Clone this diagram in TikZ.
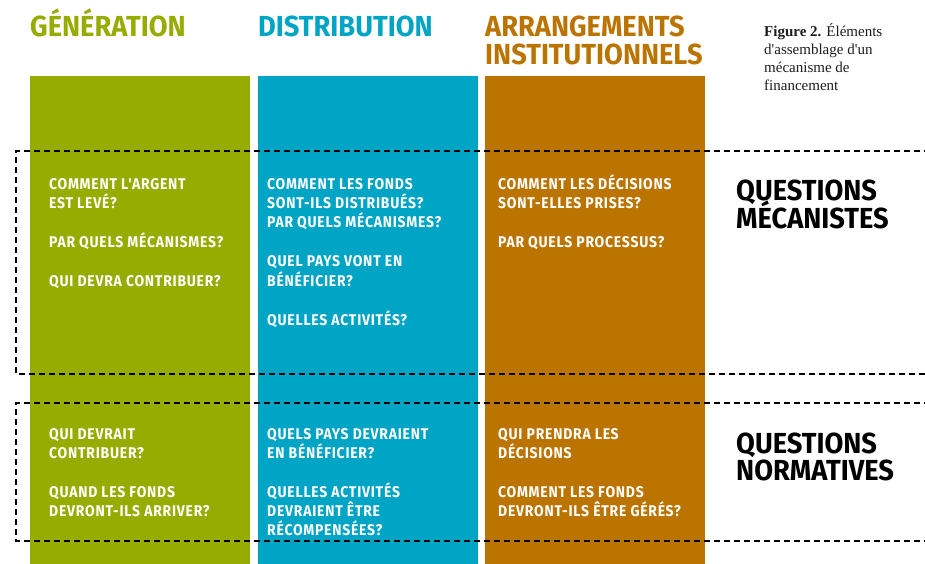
\documentclass[tikz,border=0pt]{standalone}
\usepackage{fontspec}
\setmainfont{Liberation Serif}
\newfontfamily\headfont[FakeStretch=0.94]{Fira Sans}
\newfontfamily\bodyfont[FakeStretch=0.9, LetterSpace=5]{Fira Sans}
\usetikzlibrary{positioning}

\definecolor{genGreen}{RGB}{151,172,0}
\definecolor{distBlue}{RGB}{0,164,196}
\definecolor{instOrange}{RGB}{187,116,0}
\definecolor{captionInk}{RGB}{30,28,28}

\tikzset{
  column/.style={fill=#1, draw=none},
  header/.style={anchor=base west, inner sep=0pt, text=#1,
    font=\headfont\bfseries\fontsize{29}{28}\selectfont},
  qtext/.style={anchor=base west, inner sep=0pt, text=white,
    font=\bodyfont\bfseries\fontsize{15.5}{19}\selectfont},
  qlabel/.style={anchor=base west, inner sep=0pt, text=black,
    font=\headfont\bfseries\fontsize{29}{28}\selectfont},
  groupbox/.style={draw=black, line width=1.8pt, dash pattern=on 6pt off 4pt},
}

\begin{document}
\begin{tikzpicture}[x=1pt,y=-1pt]
  \useasboundingbox (0,0) rectangle (925,564);

  % colour columns
  \fill[column=genGreen]   (30,76)  rectangle (250,564);
  \fill[column=distBlue]   (258,76) rectangle (478,564);
  \fill[column=instOrange] (485,76) rectangle (705,564);

  % column headings
  \node[header=genGreen]   (hgen)  at (30,37)  {GÉNÉRATION};
  \node[header=distBlue]   (hdist) at (258,37) {DISTRIBUTION};
  \node[header=instOrange] (hinsA) at (485,37) {ARRANGEMENTS};
  \node[header=instOrange] (hinsB) at (485,65) {INSTITUTIONNELS};

  % caption (the base anchor sits on the last line)
  \node[anchor=base west, inner sep=0pt, text=captionInk, align=left,
        font=\fontsize{15}{18}\selectfont] (cap) at (764,91)
    {\textbf{Figure 2.} Éléments\\d\textquotesingle assemblage d\textquotesingle un\\mécanisme de\\financement};

  % mechanistic questions
  \node[qtext] (g1) at (49,189.5) {COMMENT L\textquotesingle ARGENT};
  \node[qtext] (g2) at (49,208.5) {EST LEVÉ?};
  \node[qtext] (g3) at (49,247)   {PAR QUELS MÉCANISMES?};
  \node[qtext] (g4) at (49,286)   {QUI DEVRA CONTRIBUER?};

  \node[qtext] (d1) at (267,189.5) {COMMENT LES FONDS};
  \node[qtext] (d2) at (267,208.5) {SONT-ILS DISTRIBUÉS?};
  \node[qtext] (d3) at (267,227.5) {PAR QUELS MÉCANISMES?};
  \node[qtext] (d4) at (267,266.5) {QUEL PAYS VONT EN};
  \node[qtext] (d5) at (267,286)   {BÉNÉFICIER?};
  \node[qtext] (d6) at (267,325)   {QUELLES ACTIVITÉS?};

  \node[qtext] (i1) at (498,189.5) {COMMENT LES DÉCISIONS};
  \node[qtext] (i2) at (498,208.5) {SONT-ELLES PRISES?};
  \node[qtext] (i3) at (498,247)   {PAR QUELS PROCESSUS?};

  % normative questions
  \node[qtext] (gn1) at (49,439.5) {QUI DEVRAIT};
  \node[qtext] (gn2) at (49,458)   {CONTRIBUER?};
  \node[qtext] (gn3) at (49,497.5) {QUAND LES FONDS};
  \node[qtext] (gn4) at (49,516)   {DEVRONT-ILS ARRIVER?};

  \node[qtext] (dn1) at (267,439.5) {QUELS PAYS DEVRAIENT};
  \node[qtext] (dn2) at (267,458)   {EN BÉNÉFICIER?};
  \node[qtext] (dn3) at (267,497.5) {QUELLES ACTIVITÉS};
  \node[qtext] (dn4) at (267,516)   {DEVRAIENT ÊTRE};
  \node[qtext] (dn5) at (267,535)   {RÉCOMPENSÉES?};

  \node[qtext] (in1) at (498,439.5) {QUI PRENDRA LES};
  \node[qtext] (in2) at (498,458)   {DÉCISIONS};
  \node[qtext] (in3) at (498,497.5) {COMMENT LES FONDS};
  \node[qtext] (in4) at (498,516)   {DEVRONT-ILS ÊTRE GÉRÉS?};

  % row labels
  \node[qlabel] (qm1) at (736,200) {QUESTIONS};
  \node[qlabel] (qm2) at (736,228) {MÉCANISTES};
  \node[qlabel] (qn1) at (736,453) {QUESTIONS};
  \node[qlabel] (qn2) at (736,480) {NORMATIVES};

  % dashed groupings, open on the right
  \draw[groupbox] (930,151) -- (16,151) -- (16,374) -- (930,374);
  \draw[groupbox] (930,403) -- (16,403) -- (16,541) -- (930,541);
\end{tikzpicture}
\end{document}
